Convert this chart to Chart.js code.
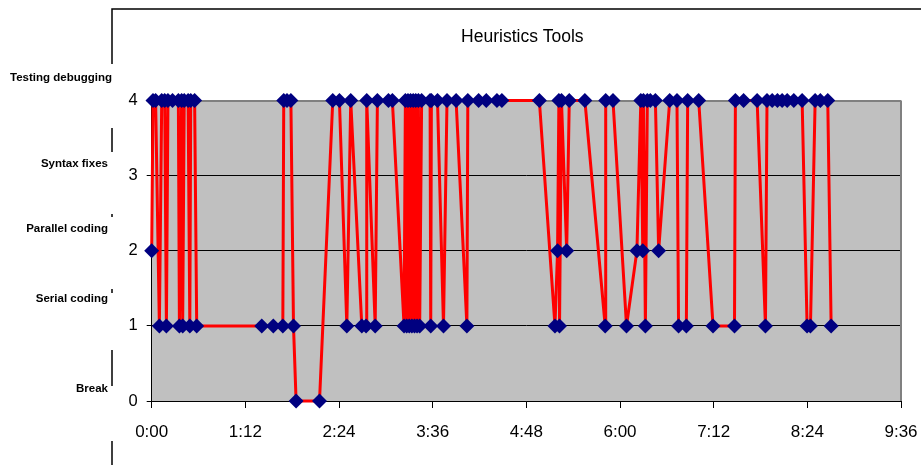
<!DOCTYPE html>
<html>
<head>
<meta charset="utf-8">
<script src="https://cdn.jsdelivr.net/npm/chart.js@4.4.0/dist/chart.umd.min.js"></script>
<style>
html, body { margin: 0; padding: 0; background: #fff; }
</style>
</head>
<body>
<canvas id="grafica" width="921" height="465"></canvas>
<script>
// Minutos desde el inicio de la sesion
const minutos = [
    0, 1, 3, 5.9, 7.7, 10, 11.3, 12.5, 16, 20.5, 21.3, 23, 23.8, 25, 28, 29.3, 30, 33, 34.6,
    84.6, 93.5, 100.8, 101.5, 104, 107, 109, 111, 129,
    139.2, 144.3, 150, 153, 161.5, 164.8, 165.3, 171.8, 173.5, 182, 185,
    194, 195, 196, 197, 198, 199, 200, 201, 202, 203, 204, 205, 206, 207.5,
    214, 214.5, 215, 219.7, 224.3, 227, 234, 242.3, 243, 251.3, 257.2, 265.4, 269.2,
    298, 310, 312, 313, 313.5, 315, 319, 321, 333, 348.6, 349, 354.6,
    365, 373, 376, 377.5, 378, 379.5, 381, 383.3, 387.2, 389.7, 398.2, 403.8, 405, 411, 412, 420.5,
    431.5, 448, 448.7, 455, 465.4, 471.8, 473, 477, 481, 484.6, 488.5, 493.6, 500,
    503.8, 506.4, 510, 514, 519.7, 522.3
];
// Actividad (0 = Break ... 4 = Testing debugging)
const niveles = [
    2, 4, 4, 1, 4, 4, 1, 4, 4, 4, 1, 4, 1, 4, 4, 1, 4, 4, 1,
    1, 1, 1, 4, 4, 4, 1, 0, 0,
    4, 4, 1, 4, 1, 1, 4, 1, 4, 4, 4,
    1, 4, 1, 4, 1, 4, 1, 4, 1, 4, 1, 4, 1, 4,
    4, 1, 4, 4, 1, 4, 4, 1, 4, 4, 4, 4, 4,
    4, 1, 2, 4, 1, 4, 2, 4, 4, 1, 4, 4,
    1, 2, 4, 2, 4, 1, 4, 4, 4, 2, 4, 4, 1, 1, 4, 4,
    1, 1, 4, 4, 4, 1, 4, 4, 4, 4, 4, 4, 4,
    1, 1, 4, 4, 4, 1
];
const etiquetasNivel = ['Break', 'Serial coding', 'Parallel coding', 'Syntax fixes', 'Testing debugging'];
const marcasX = [0, 72, 144, 216, 288, 360, 432, 504, 576];
const titulo = 'Heuristics Tools';

const familia = '"Liberation Sans", Arial';

function formatoHora(v){
    let h = Math.floor(v / 60);
    let m = Math.round(v % 60);
    return h + ':' + (m < 10 ? '0' + m : m);
}

// Fondo gris, borde derecho, titulo y etiquetas de actividad
const decorado = {
    id: 'decorado',
    beforeDraw(chart){
        let a = chart.chartArea;
        let ctx = chart.ctx;
        ctx.save();
        ctx.fillStyle = '#ffffff';
        ctx.fillRect(0, 0, chart.width, chart.height);
        ctx.fillStyle = '#C0C0C0';
        ctx.fillRect(a.left, a.top, a.right - a.left, a.bottom - a.top);
        ctx.restore();
    },
    afterDraw(chart){
        let a = chart.chartArea;
        let ctx = chart.ctx;
        let y = chart.scales.y;
        ctx.save();
        // borde derecho
        ctx.strokeStyle = '#808080';
        ctx.lineWidth = 2;
        ctx.beginPath();
        ctx.moveTo(a.right, a.top);
        ctx.lineTo(a.right, a.bottom);
        ctx.stroke();

        // marco del grafico (tapado en parte por las etiquetas)
        ctx.strokeStyle = '#000';
        ctx.lineWidth = 1.5;
        ctx.beginPath();
        ctx.moveTo(chart.width, 9);
        ctx.lineTo(112, 9);
        ctx.lineTo(112, 64);
        [[128, 152], [214, 217], [289, 293], [350, 386], [441, 465]].forEach(t => {
            ctx.moveTo(112, t[0]);
            ctx.lineTo(112, t[1]);
        });
        ctx.stroke();

        // titulo
        ctx.fillStyle = '#000';
        ctx.font = '17.5px ' + familia;
        ctx.textAlign = 'center';
        ctx.textBaseline = 'middle';
        ctx.fillText(titulo, (a.left + a.right) / 2 - 4, 37);

        // etiquetas de actividad
        let desplaz = [-12, -27, -22, -12, -23];
        let derecha = [108, 108, 108, 108, 112];
        ctx.font = 'bold 11.5px ' + familia;
        ctx.textAlign = 'right';
        etiquetasNivel.forEach((t, i) => {
            ctx.fillText(t, derecha[i], y.getPixelForValue(i) + desplaz[i]);
        });
        ctx.restore();
    }
};

const puntos = minutos.map((m, i) => ({ x: m, y: niveles[i] }));

new Chart(document.getElementById('grafica'), {
    type: 'scatter',
    data: {
        datasets: [{
            label: titulo,
            data: puntos,
            showLine: true,
            borderColor: '#FF0000',
            borderWidth: 3,
            tension: 0,
            pointStyle: 'rectRot',
            pointRadius: 7.5,
            pointHoverRadius: 7.5,
            pointBackgroundColor: '#000080',
            pointBorderColor: '#000080',
            pointBorderWidth: 0,
            clip: false
        }]
    },
    options: {
        responsive: false,
        animation: false,
        events: [],
        layout: { padding: { top: 100.5, right: 20, left: 0, bottom: 0 } },
        plugins: {
            legend: { display: false },
            title: { display: false },
            tooltip: { enabled: false }
        },
        scales: {
            x: {
                type: 'linear',
                min: 0,
                max: 576,
                afterFit: s => {
                    s.height = 64;
                    s.paddingLeft = 0;
                    s.paddingRight = 0;
                },
                afterBuildTicks: s => { s.ticks = marcasX.map(v => ({ value: v })); },
                ticks: {
                    autoSkip: false,
                    maxRotation: 0,
                    color: '#000',
                    padding: 14,
                    font: { family: familia, size: 17 },
                    callback: v => formatoHora(v)
                },
                grid: {
                    drawOnChartArea: false,
                    tickLength: 7,
                    color: '#000'
                },
                border: { color: '#000', width: 1 }
            },
            y: {
                min: 0,
                max: 4,
                afterFit: s => { s.width = 151.7; },
                ticks: {
                    stepSize: 1,
                    color: '#000',
                    padding: 9,
                    font: { family: familia, size: 16.5 }
                },
                grid: {
                    tickLength: 5,
                    color: ctx => ctx.tick.value === 4 ? '#808080' : '#000',
                    lineWidth: ctx => ctx.tick.value === 4 ? 2 : 1
                },
                border: { color: '#000', width: 1 }
            }
        }
    },
    plugins: [decorado]
});
</script>
</body>
</html>
